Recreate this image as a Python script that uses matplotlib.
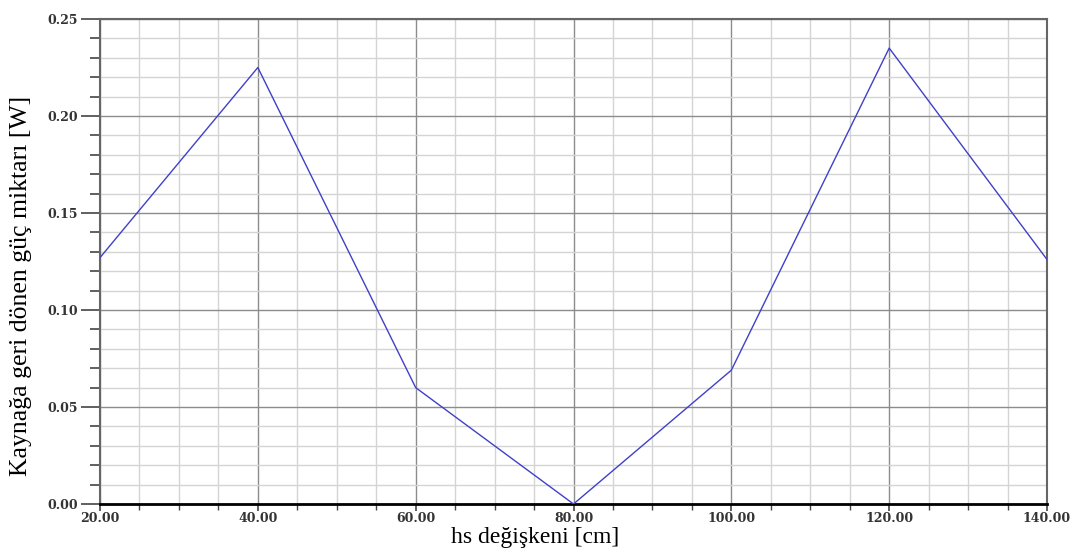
import matplotlib
matplotlib.use("Agg")
import matplotlib.pyplot as plt
from matplotlib.ticker import MultipleLocator, FormatStrFormatter

# hs degiskeni [cm] vs returned power [W]
hs = [20, 40, 60, 80, 100, 120, 140]
power = [0.127, 0.225, 0.060, 0.0, 0.069, 0.235, 0.126]

fig = plt.figure(figsize=(10.74, 5.56), dpi=100)
ax = fig.add_axes([0.0931, 0.0935, 0.8818, 0.8723])

ax.plot(hs, power, color="#4040c8", lw=1.0, zorder=3)

ax.set_xlim(20, 140)
ax.set_ylim(0, 0.25)
ax.xaxis.set_major_locator(MultipleLocator(20))
ax.xaxis.set_minor_locator(MultipleLocator(5))
ax.yaxis.set_major_locator(MultipleLocator(0.05))
ax.yaxis.set_minor_locator(MultipleLocator(0.01))
ax.xaxis.set_major_formatter(FormatStrFormatter("%.2f"))
ax.yaxis.set_major_formatter(FormatStrFormatter("%.2f"))

ax.grid(which="major", color="#8c8c8c", lw=1.0)
ax.grid(which="minor", color="#d4d4d4", lw=1.0)
ax.set_axisbelow(True)

for s in ["top", "right", "left"]:
    ax.spines[s].set_color("#666666")
    ax.spines[s].set_linewidth(1.5)
ax.spines["bottom"].set_color("black")
ax.spines["bottom"].set_linewidth(2.0)

ax.tick_params(which="both", direction="out", color="#444444")
ax.tick_params(axis="y", which="major", length=14, width=1.2, pad=2)
ax.tick_params(axis="y", which="minor", length=7, width=1.2)
ax.tick_params(axis="x", which="major", length=5, width=1.2, pad=1)
ax.tick_params(axis="x", which="minor", length=4, width=1.0)
for lab in ax.get_xticklabels() + ax.get_yticklabels():
    lab.set_fontfamily("DejaVu Serif")
    lab.set_fontweight("bold")
    lab.set_fontsize(9)
    lab.set_color("#333333")

ax.set_xlabel("hs değişkeni [cm]", fontfamily="Liberation Serif", fontsize=17)
ax.set_ylabel("Kaynağa geri dönen güç miktarı [W]", fontfamily="Liberation Serif", fontsize=18.5)
ax.xaxis.set_label_coords(0.459, -0.048)
ax.yaxis.set_label_coords(-0.072, 0.45)

fig.savefig("out.png", dpi=100)
